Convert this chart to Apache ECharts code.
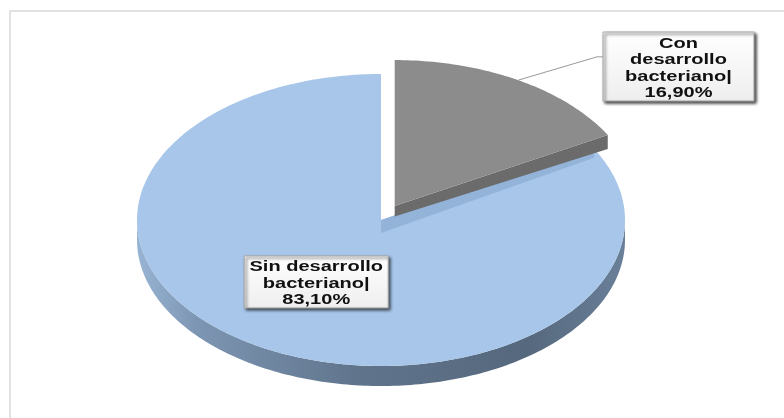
<!DOCTYPE html>
<html>
<head>
<meta charset="utf-8">
<script src="https://cdn.jsdelivr.net/npm/echarts@6/dist/echarts.min.js"></script>
<style>
  html, body { margin: 0; padding: 0; background: #ffffff; }
  #chart { width: 784px; height: 418px; }
</style>
</head>
<body>
<div id="chart"></div>
<script>
// Slice names, the way each label wraps, and the shares in percent
const categories = ['Con desarrollo bacteriano', 'Sin desarrollo bacteriano'];
const labelLines = [['Con', 'desarrollo', 'bacteriano|'], ['Sin desarrollo', 'bacteriano|']];
const percentValues = [16.9, 83.1];

// Tilted disc geometry (screen pixels)
const DISC = { cx: 381, cy: 220, rx: 244, ry: 146, depth: 20, cutDepth: 14 };
const EXPLODE = [27, 0];
const TOP_COLORS = ['#8c8c8c', '#a7c6e9'];
const CUT_COLORS = ['#6b6b6b', '#8fb0d6'];
const BEVEL_COLORS = ['#7a7a7a', '#93b3d9'];
// Label boxes: 'outside' boxes sit at a fixed spot with a leader line,
// 'inside' boxes are centred on the slice at half radius
const LABEL_LAYOUT = [
  { mode: 'outside', x: 603, y: 32, w: 151, h: 69 },
  { mode: 'inside', w: 144, h: 52, r: 0.5 }
];
const FONT = 'bold 14px "Liberation Sans", Arial, sans-serif';
const TEXT_STRETCH = 1.43;
const LINE_H = 16.5;

const total = percentValues.reduce((a, b) => a + b, 0);

function fmtPct(v) {
  return v.toFixed(2).replace('.', ',') + '%';
}

function rimPoint(theta, r, ox, oy, down) {
  return [
    DISC.cx + ox + DISC.rx * r * Math.sin(theta),
    DISC.cy + oy - DISC.ry * r * Math.cos(theta) + (down || 0)
  ];
}

function arcPoints(a, b, ox, oy, down) {
  const pts = [];
  const n = Math.max(6, Math.ceil((b - a) / (Math.PI / 180)));
  for (let k = 0; k <= n; k++) {
    pts.push(rimPoint(a + (b - a) * k / n, 1, ox, oy, down));
  }
  return pts;
}

function renderSlice(params) {
  const i = params.dataIndex;
  let before = 0;
  for (let k = 0; k < i; k++) before += percentValues[k];
  const start = before / total * Math.PI * 2;
  const end = (before + percentValues[i]) / total * Math.PI * 2;
  const mid = (start + end) / 2;
  const ox = EXPLODE[i] * Math.sin(mid);
  const oy = -EXPLODE[i] * Math.cos(mid) * DISC.ry / DISC.rx;
  const zBase = EXPLODE[i] > 0 ? 20 : 0;
  const center = [DISC.cx + ox, DISC.cy + oy];
  const children = [];

  // curved outer wall, only the front half faces the viewer
  const lo = Math.max(start, Math.PI / 2);
  const hi = Math.min(end, Math.PI * 1.5);
  if (lo < hi) {
    const topArc = arcPoints(lo, hi, ox, oy, 0);
    const botArc = arcPoints(lo, hi, ox, oy, DISC.depth).reverse();
    children.push({
      type: 'polygon',
      z2: zBase + 1,
      shape: { points: topArc.concat(botArc) },
      style: {
        fill: {
          type: 'linear', global: true,
          x: DISC.cx - DISC.rx, y: 0, x2: DISC.cx + DISC.rx, y2: 0,
          colorStops: [
            { offset: 0, color: '#98b4d4' },
            { offset: 0.12, color: '#7d96b3' },
            { offset: 0.45, color: '#60748c' },
            { offset: 0.8, color: '#55687d' },
            { offset: 1, color: '#6a8099' }
          ]
        },
        stroke: null
      }
    });
  }

  // radial cut face at the end edge (faces the viewer when sin(end) > 0)
  if (Math.sin(end) > 0.01 && percentValues[i] < total) {
    const rim = rimPoint(end, 1, ox, oy, 0);
    children.push({
      type: 'polygon',
      z2: zBase + 2,
      shape: {
        points: [center, rim, [rim[0], rim[1] + DISC.cutDepth], [center[0], center[1] + DISC.cutDepth * 0.75]]
      },
      style: { fill: CUT_COLORS[i], stroke: null }
    });
  }

  // top face
  children.push({
    type: 'polygon',
    z2: zBase + 3,
    shape: { points: [center].concat(arcPoints(start, end, ox, oy, 0)) },
    style: { fill: TOP_COLORS[i], stroke: null }
  });

  // light bevel along the start edge when it borders the gap
  if (start > 0 && Math.sin(start) > 0) {
    const rim = rimPoint(start, 1, ox, oy, 0);
    children.push({
      type: 'polygon',
      z2: zBase + 4,
      shape: {
        points: [center, rim, [rim[0], rim[1] + 9], [center[0], center[1] + 13]]
      },
      style: { fill: BEVEL_COLORS[i], stroke: null }
    });
  }

  // label box
  const lay = LABEL_LAYOUT[i];
  const lines = labelLines[i].concat([fmtPct(percentValues[i])]);
  let bx, by;
  if (lay.mode === 'outside') {
    bx = lay.x; by = lay.y;
    const anchor = rimPoint(mid, 1, ox, oy, 0);
    const ly = by + lay.h * 0.36;
    children.push({
      type: 'polyline',
      z2: 40,
      shape: { points: [anchor, [bx - 6, ly], [bx, ly]] },
      style: { stroke: '#9a9a9a', lineWidth: 1, fill: null }
    });
  } else {
    const p = rimPoint(mid, lay.r, ox, oy, 0);
    bx = p[0] - lay.w / 2 - 3;
    by = p[1] - lay.h / 2 - 1;
  }
  children.push({
    type: 'rect',
    z2: 41,
    shape: { x: bx, y: by, width: lay.w, height: lay.h },
    style: {
      fill: {
        type: 'linear', x: 0, y: 0, x2: 0, y2: 1,
        colorStops: [{ offset: 0, color: '#ffffff' }, { offset: 1, color: '#eeeeee' }]
      },
      stroke: '#a8a8a8',
      lineWidth: 1,
      shadowBlur: 3,
      shadowColor: 'rgba(0,0,0,0.75)',
      shadowOffsetX: 2,
      shadowOffsetY: 2
    }
  });
  children.push({
    type: 'text',
    z2: 42,
    x: bx + lay.w / 2,
    y: by + lay.h / 2 + 2,
    scaleX: TEXT_STRETCH,
    style: {
      x: 0, y: 0,
      text: lines.join('\n'),
      font: FONT,
      fill: '#111111',
      align: 'center',
      verticalAlign: 'middle',
      lineHeight: LINE_H
    }
  });

  return { type: 'group', children: children };
}

const chart = echarts.init(document.getElementById('chart'), null, { renderer: 'canvas' });
chart.setOption({
  animation: false,
  backgroundColor: '#ffffff',
  graphic: [{
    type: 'rect',
    silent: true,
    shape: { x: 10, y: 11, width: 800, height: 450 },
    style: { fill: null, stroke: '#d9d9d9', lineWidth: 1.5 }
  }],
  series: [{
    type: 'custom',
    coordinateSystem: 'none',
    silent: true,
    data: percentValues.map((v, k) => ({ name: categories[k], value: v })),
    renderItem: renderSlice
  }]
});
</script>
</body>
</html>
